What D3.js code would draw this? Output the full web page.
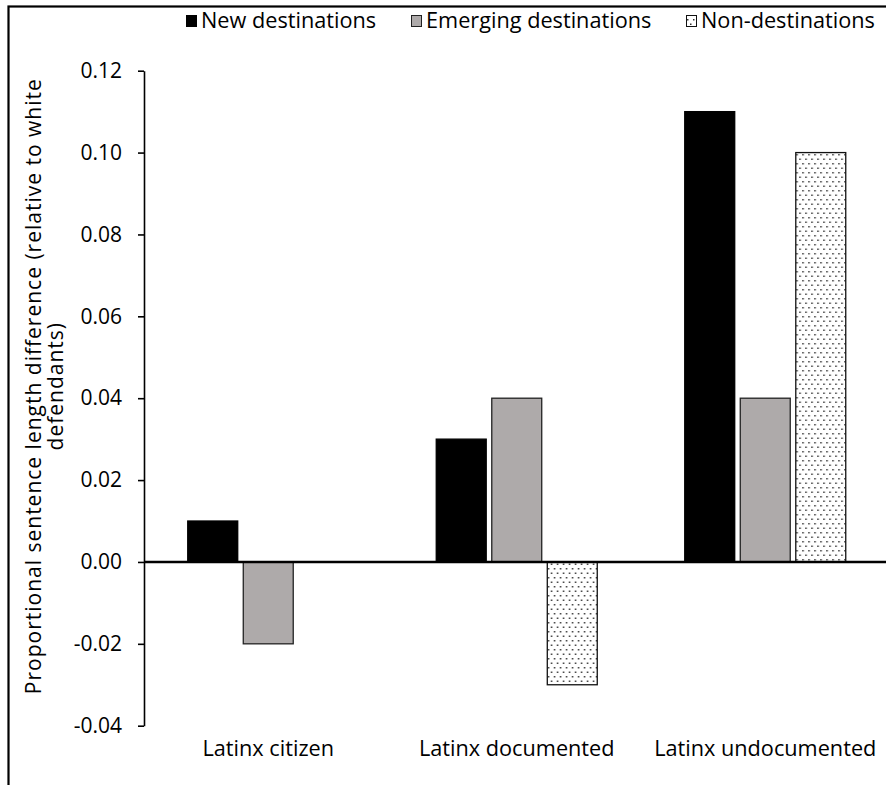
<!DOCTYPE html>
<html>
<head>
<meta charset="utf-8">
<script src="https://cdn.jsdelivr.net/npm/d3@7"></script>
<style>
  html, body { margin: 0; padding: 0; background: #fff; }
  svg { display: block; }
  text { font-family: "Open Sans", sans-serif; fill: #000; }
</style>
</head>
<body>
<svg id="chart" width="886" height="785"></svg>
<script>
const categories = ["Latinx citizen", "Latinx documented", "Latinx undocumented"];
const seriesNames = ["New destinations", "Emerging destinations", "Non-destinations"];
const newDest = [0.01, 0.03, 0.11];
const emergingDest = [-0.02, 0.04, 0.04];
const nonDest = [null, -0.03, 0.10];
const yTicks = [-0.04, -0.02, 0.00, 0.02, 0.04, 0.06, 0.08, 0.10, 0.12];
const yTitle = ["Proportional sentence length difference (relative to white", "defendants)"];

const seriesValues = [newDest, emergingDest, nonDest];

const svg = d3.select("#chart");
const W = 886, H = 785;

// pattern for dotted fill
const defs = svg.append("defs");
const pat = defs.append("pattern").attr("id", "dots")
  .attr("patternUnits", "userSpaceOnUse").attr("width", 6).attr("height", 9);
pat.append("rect").attr("width", 6).attr("height", 9).attr("fill", "#fff");
pat.append("rect").attr("x", 1).attr("y", 1).attr("width", 1.5).attr("height", 1.5).attr("fill", "#333");
pat.append("rect").attr("x", 4).attr("y", 5.5).attr("width", 1.5).attr("height", 1.5).attr("fill", "#333");

const fills = ["#000000", "#aeaaaa", "url(#dots)"];
const strokes = ["#000000", "#222222", "#111111"];

// outer frame (cropped at right/bottom)
svg.append("rect").attr("x", 8.5).attr("y", 6.5).attr("width", 2000).attr("height", 2000)
  .attr("fill", "none").attr("stroke", "#000").attr("stroke-width", 2.2);

const x0 = d3.scaleBand().domain(categories).range([144, 889.5]).padding(0);
const x1 = d3.scaleBand().domain(seriesNames).range([-80.5, 80.5]).paddingInner(0.1).paddingOuter(0);
const y = d3.scaleLinear().domain([-0.04, 0.12]).range([725.7, 70.7]);

// bars
const groups = svg.append("g").selectAll("g").data(categories).join("g")
  .attr("transform", d => `translate(${x0(d) + x0.bandwidth() / 2},0)`);

groups.each(function (cat, ci) {
  const g = d3.select(this);
  seriesNames.forEach((s, si) => {
    const v = seriesValues[si][ci];
    if (v === null || v === undefined) return;
    g.append("rect")
      .attr("x", x1(s))
      .attr("width", x1.bandwidth())
      .attr("y", y(Math.max(0, v)))
      .attr("height", Math.abs(y(v) - y(0)))
      .attr("fill", fills[si])
      .attr("stroke", strokes[si])
      .attr("stroke-width", 1.3);
  });
});

// y axis
const fmt = d3.format(".2f");
const yAxis = d3.axisLeft(y).tickValues(yTicks)
  .tickFormat(d => fmt(d).replace("\u2212", "-"))
  .tickSize(6).tickSizeOuter(0);
const ya = svg.append("g").attr("transform", "translate(144,0)").call(yAxis);
ya.select(".domain").attr("stroke", "#000").attr("stroke-width", 1.6);
ya.selectAll(".tick line").attr("stroke", "#000").attr("stroke-width", 1.6);
ya.selectAll(".tick text").attr("x", -22).attr("font-size", 21).attr("font-family", "'Open Sans', sans-serif").attr("fill", "#000");

// zero line
svg.append("line").attr("x1", 144).attr("x2", W).attr("y1", y(0)).attr("y2", y(0))
  .attr("stroke", "#000").attr("stroke-width", 2.6);

// category labels
svg.append("g").selectAll("text").data(categories).join("text")
  .attr("x", d => x0(d) + x0.bandwidth() / 2)
  .attr("y", 756)
  .attr("text-anchor", "middle")
  .attr("font-size", 21.7)
  .text(d => d);

// y title
const yt = svg.append("text").attr("transform", `translate(0,${(70.7 + 725.7) / 2 - 12}) rotate(-90)`)
  .attr("text-anchor", "middle").attr("font-size", 21).attr("letter-spacing", 1);
yt.append("tspan").attr("x", 0).attr("y", 41).text(yTitle[0]);
yt.append("tspan").attr("x", 0).attr("y", 63).text(yTitle[1]);

// legend
const legendX = [186, 411, 686];
const lg = svg.append("g").selectAll("g").data(seriesNames).join("g")
  .attr("transform", (d, i) => `translate(${legendX[i]},0)`);
lg.append("rect").attr("x", 0.5).attr("y", 15.5).attr("width", 10).attr("height", 11)
  .attr("fill", (d, i) => fills[i]).attr("stroke", (d, i) => strokes[i]).attr("stroke-width", 1);
lg.append("text").attr("x", 15).attr("y", 28).attr("font-size", 21.7).text(d => d);
</script>
</body>
</html>
